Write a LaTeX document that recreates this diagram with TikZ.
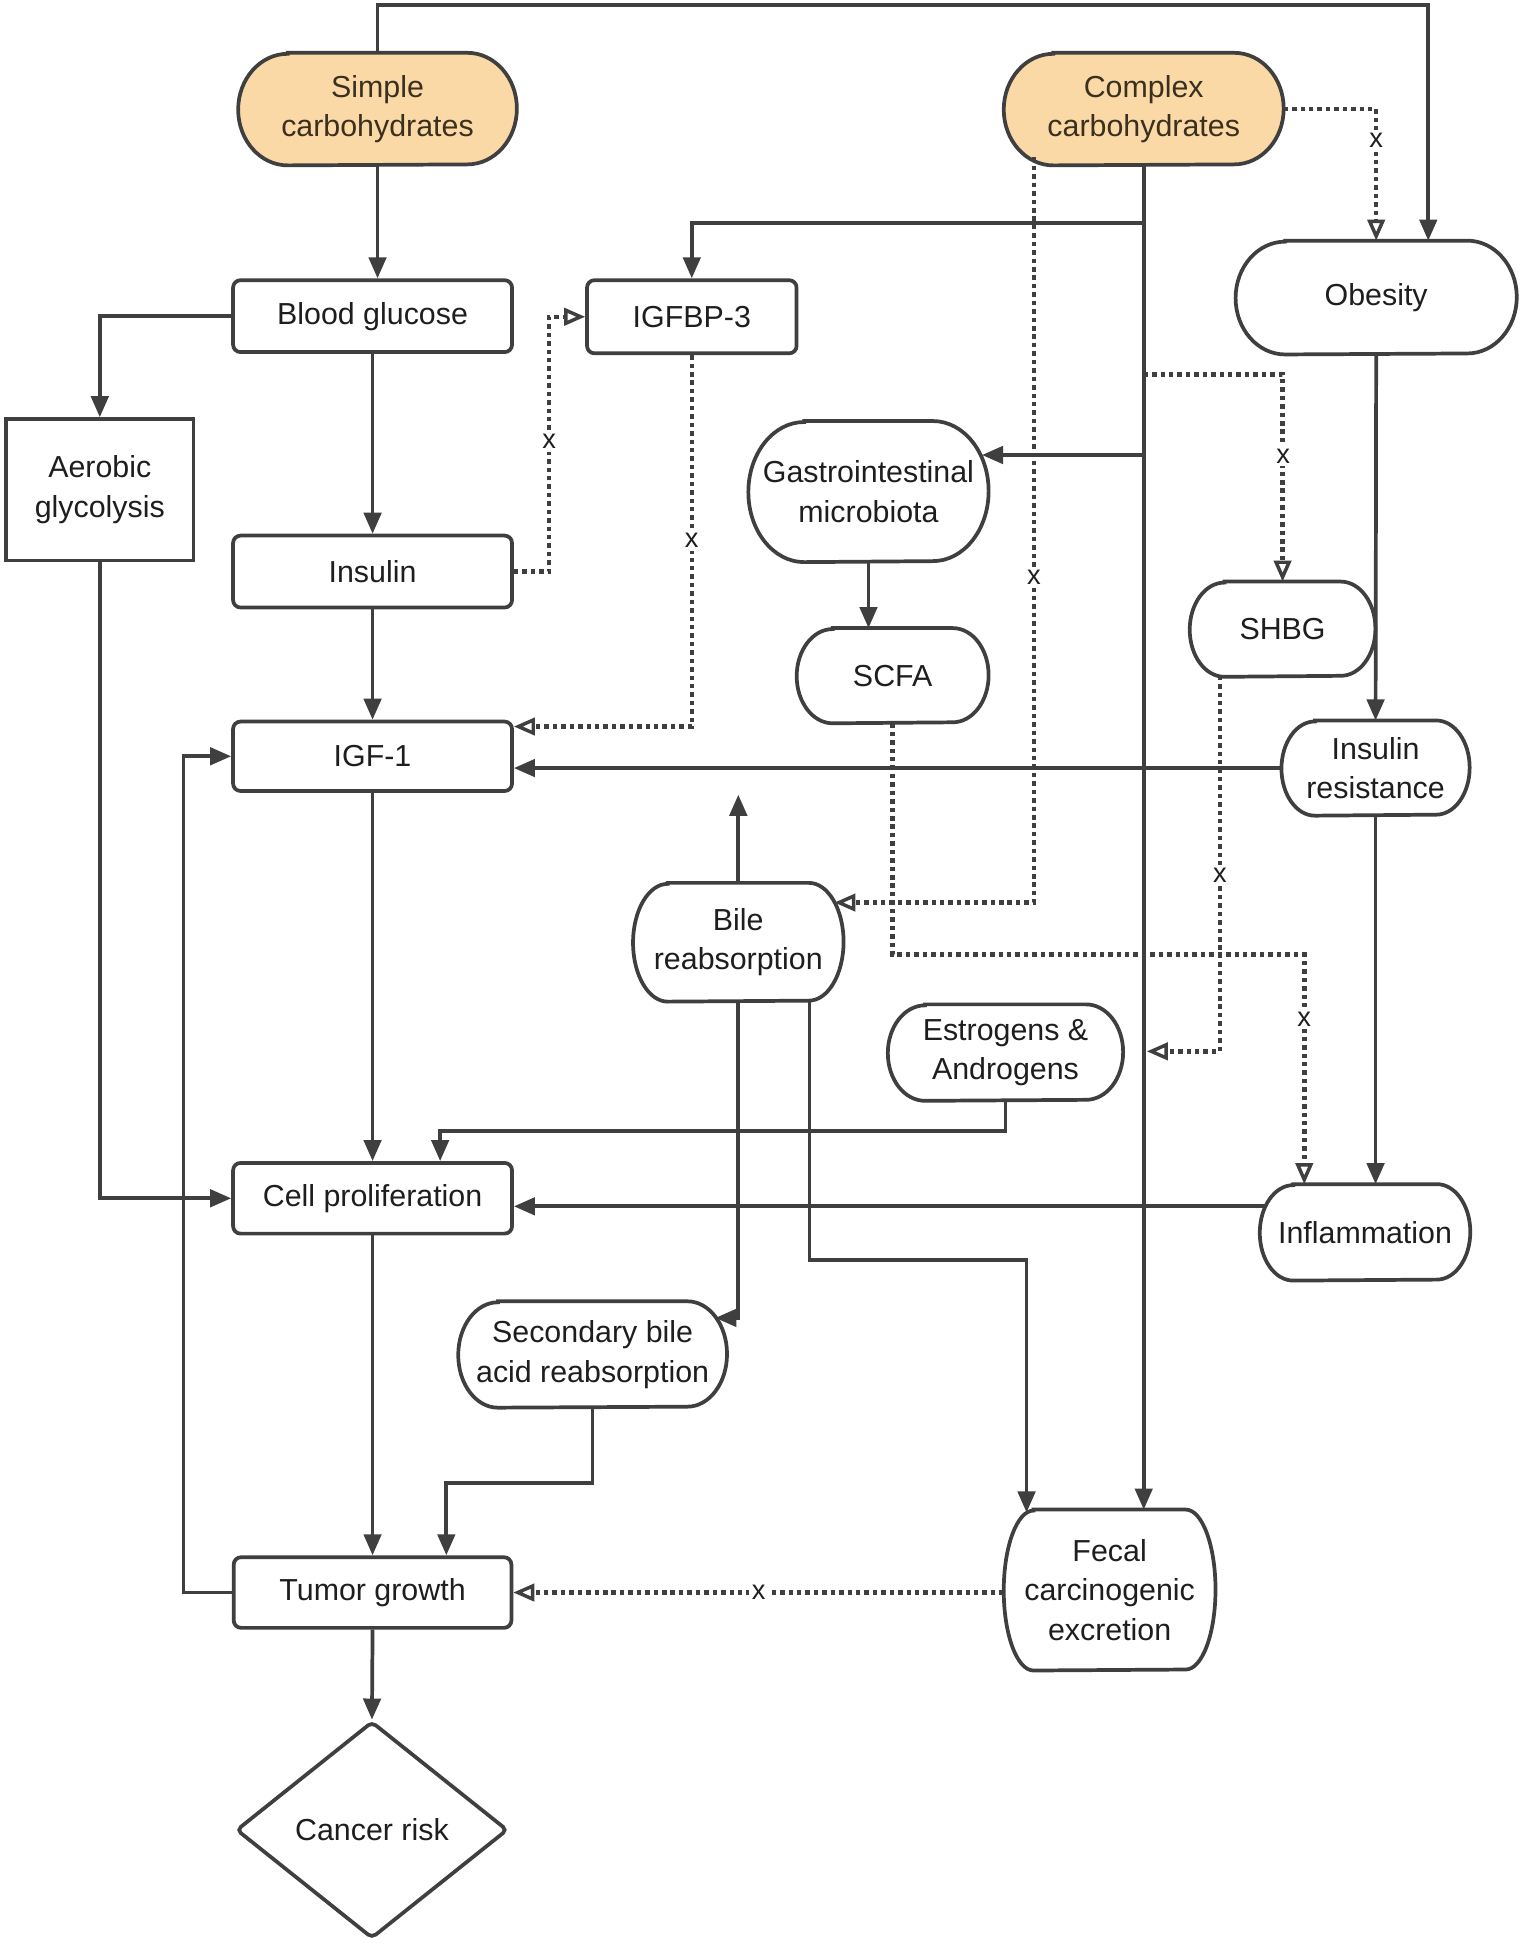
\documentclass[tikz,border=0pt]{standalone}
\usepackage{fontspec}
\setmainfont{Liberation Sans}
\usetikzlibrary{arrows.meta,shapes.geometric,backgrounds}
\definecolor{lc}{HTML}{3F3F3F}
\definecolor{txt}{HTML}{1E1E1E}
\definecolor{peach}{HTML}{FBD9A6}
\definecolor{ptxt}{HTML}{3B3020}
\newcommand{\nfont}{\fontsize{12.25pt}{16pt}\selectfont}
\newcommand{\xfont}{\fontsize{11pt}{13pt}\selectfont}
% outline of a terminator node: name, x radius of ends, half height, fill
\newcommand{\termshape}[4]{%
  \path[draw=lc, line width=1.5pt, fill=#4]
    ([xshift=#2]#1.north west) -- ([xshift=-#2]#1.north east)
    arc[start angle=90, end angle=-90, x radius=#2, y radius=#3]
    -- ([xshift=#2]#1.south west)
    arc[start angle=270, end angle=90, x radius=#2, y radius=#3]
    -- cycle;}
\begin{document}
\begin{tikzpicture}[x=0.5pt,y=0.5pt,
  nd/.style={inner sep=0pt, align=center, text=txt, font=\nfont},
  tm/.style={nd, rectangle},
  bx/.style={nd, rectangle, draw=lc, line width=1.5pt, rounded corners=3pt},
  sq/.style={nd, rectangle, draw=lc, line width=1.5pt},
  dm/.style={nd, diamond, draw=lc, line width=1.5pt, rounded corners=2pt,
    minimum width=109.5pt, minimum height=87.5pt},
  arr/.style={draw=lc, line width=1.5pt, -{Triangle[length=8.5pt,width=7pt]}},
  opn/.style={draw=lc, line width=1.8pt, dash pattern=on 1.8pt off 1.6pt,
    -{Triangle[open,length=8.5pt,width=7pt,line width=1.4pt]}},
  xl/.style={fill=white, inner sep=1.2pt, font=\xfont, text=txt}]
\useasboundingbox (0,0) rectangle (1229,-1568);

% ---------- nodes ----------
\node[tm, text=ptxt, minimum width=112pt, minimum height=45pt] (simple) at (304.5,-88) {Simple\\carbohydrates};
\node[tm, text=ptxt, minimum width=112.5pt, minimum height=45pt] (complex) at (922.5,-88) {Complex\\carbohydrates};
\node[bx, minimum width=112.5pt, minimum height=29pt] (bg) at (300.5,-255) {Blood glucose};
\node[bx, minimum width=84.5pt, minimum height=29.5pt] (igfbp) at (558,-255.5) {IGFBP-3};
\node[tm, minimum width=113pt, minimum height=45.5pt] (obesity) at (1110,-240) {Obesity};
\node[sq, minimum width=75.5pt, minimum height=57pt] (aerobic) at (80.5,-395) {Aerobic\\glycolysis};
\node[bx, minimum width=112.5pt, minimum height=29pt] (insulin) at (300.5,-461) {Insulin};
\node[tm, minimum width=96.5pt, minimum height=56.5pt] (gastro) at (700.5,-396.5) {Gastrointestinal\\microbiota};
\node[tm, minimum width=77pt, minimum height=38pt] (scfa) at (720,-545) {SCFA};
\node[tm, minimum width=74.5pt, minimum height=38pt] (shbg) at (1034.5,-507.5) {SHBG};
\node[bx, minimum width=112.5pt, minimum height=28pt] (igf1) at (300.5,-610) {IGF-1};
\node[tm, minimum width=75.5pt, minimum height=38pt] (insres) at (1109.5,-619.5) {Insulin\\resistance};
\node[tm, minimum width=84.5pt, minimum height=47.5pt] (bile) at (595.5,-760) {Bile\\reabsorption};
\node[tm, minimum width=94.5pt, minimum height=38.5pt] (estro) at (811,-849) {Estrogens \&\\Androgens};
\node[bx, minimum width=112.5pt, minimum height=28.5pt] (cellp) at (300.5,-966.5) {Cell proliferation};
\node[tm, minimum width=84.5pt, minimum height=38.5pt] (inflam) at (1101,-994) {Inflammation};
\node[tm, minimum width=108pt, minimum height=42.5pt] (secbile) at (478,-1092.5) {Secondary bile\\acid reabsorption};
\node[bx, minimum width=112pt, minimum height=28.5pt] (tumor) at (300.5,-1284.5) {Tumor growth};
\node[tm, minimum width=85pt, minimum height=64.5pt] (fecal) at (895,-1282.5) {Fecal\\carcinogenic\\excretion};
\node[dm] (cancer) at (300,-1476) {Cancer risk};

% ---------- terminator outlines (behind text) ----------
\begin{scope}[on background layer]
\fill[white] (0,0) rectangle (1229,-1568);
\termshape{simple}{20pt}{22.5pt}{peach}
\termshape{complex}{20pt}{22.5pt}{peach}
\termshape{obesity}{20pt}{22.75pt}{white}
\termshape{gastro}{22.5pt}{28.25pt}{white}
\termshape{scfa}{14.5pt}{19pt}{white}
\termshape{shbg}{14pt}{19pt}{white}
\termshape{insres}{13.5pt}{19pt}{white}
\termshape{bile}{14pt}{23.75pt}{white}
\termshape{estro}{15pt}{19.25pt}{white}
\termshape{inflam}{13.5pt}{19.25pt}{white}
\termshape{secbile}{16pt}{21.25pt}{white}
\termshape{fecal}{12pt}{32.25pt}{white}
\end{scope}

% ---------- helper coordinates ----------
\coordinate (tl) at (304.5,-4);
\coordinate (tr) at (1152,-4);
\coordinate (k5) at (443,0);
\coordinate (k7) at (0,-586);
\coordinate (k8a) at (0,-180);
\coordinate (k8b) at (0,-367);
\coordinate (gtip) at (792,-367);
\coordinate (k8d) at (0,-302);
\coordinate (k10s) at (834,-127);
\coordinate (k10e) at (673,-728);
\coordinate (k13) at (1052,-770);
\coordinate (k14s) at (984,-545);
\coordinate (k14e) at (925,-848);
\coordinate (k17) at (595.5,-641);
\coordinate (k18) at (577,-1063);
\coordinate (k19s) at (653,-807);
\coordinate (k19m) at (828,-1016);
\coordinate (k19e) at (828,-1220);
\coordinate (k20) at (355,-912);
\coordinate (k22s) at (1021,-973);
\coordinate (k24) at (360,-1196);
\coordinate (k25) at (148,0);

% ---------- solid connectors ----------
\draw[arr] (simple.north) -- (tl) -- (tr) -- (tr |- obesity.north);
\draw[arr] (simple.south) -- (simple.south |- bg.north);
\draw[arr] (bg.west) -| (aerobic.north);
\draw[arr] (bg.south) -- (insulin.north);
\draw[arr] (insulin.south) -- (igf1.north);
\draw[arr] (igf1.south) -- (cellp.north);
\draw[arr] (complex.south) -- (complex.south |- fecal.north);
\draw[arr] (complex.south |- k8a) -| (igfbp.north);
\draw[arr] (complex.south |- k8b) -- (gtip);
\draw[arr] (obesity.south) -- (insres.north);
\draw[arr] (gastro.south) -- (gastro.south |- scfa.north);
\draw[arr] (insres.west) -- (igf1.east |- insres.west);
\draw[arr] (insres.south) -- (insres.south |- inflam.north);
\draw[arr] (bile.north) -- (k17);
\draw[arr] (bile.south) |- (k18);
\draw[arr] (k19s) |- (k19m) -- (k19e);
\draw[arr] (estro.south) |- (k20) -- (k20 |- cellp.north);
\draw[arr] (aerobic.south) |- (cellp.west);
\draw[arr] (k22s) -- (cellp.east |- k22s);
\draw[arr] (cellp.south) -- (tumor.north);
\draw[arr] (secbile.south) |- (k24) -- (k24 |- tumor.north);
\draw[arr] (tumor.west) -| (k25 |- igf1.west) -- (igf1.west);
\draw[arr] (tumor.south) -- (cancer.north);

% ---------- dotted connectors ----------
\draw[opn] (insulin.east) -| (igfbp.west -| k5) -- (igfbp.west);
\draw[opn] (igfbp.south) |- (igf1.east |- k7);
\draw[opn] (complex.south |- k8d) -| (shbg.north);
\draw[opn] (complex.east) -| (obesity.north);
\draw[opn] (k10s) |- (k10e);
\draw[opn] (scfa.south) |- (k13) -- (k13 |- inflam.north);
\draw[opn] (k14s) |- (k14e);
\draw[opn] (fecal.west |- tumor.east) -- (tumor.east);

% ---------- x labels ----------
\node[xl] (x1) at (443,-356) {x};
\node[xl] (x2) at (558,-436) {x};
\node[xl] (x3) at (1110,-113) {x};
\node[xl] (x4) at (1035,-368) {x};
\node[xl] (x5) at (834,-466) {x};
\node[xl] (x6) at (984,-706) {x};
\node[xl] (x7) at (1052,-822) {x};
\node[xl] (x8) at (612,-1284) {x};
\end{tikzpicture}
\end{document}
